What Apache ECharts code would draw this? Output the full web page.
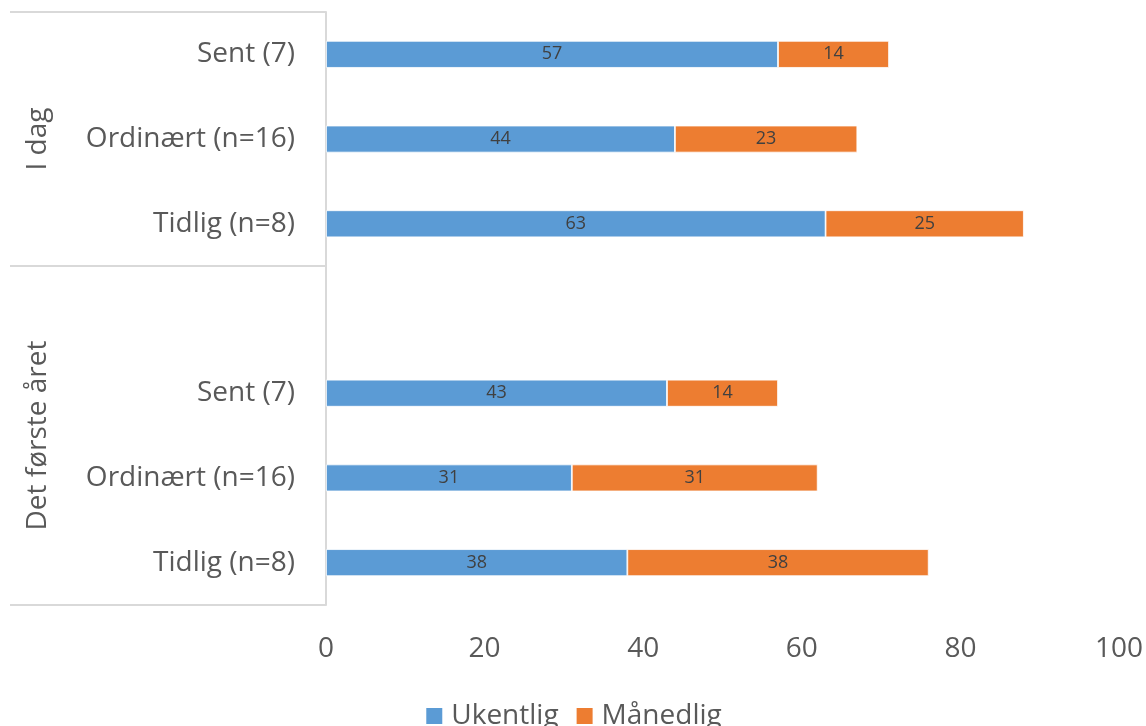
<!DOCTYPE html>
<html>
<head>
<meta charset="utf-8">
<title>Ukentlig / Månedlig</title>
<script src="https://cdn.jsdelivr.net/npm/echarts@6/dist/echarts.min.js"></script>
<style>
  html, body { margin: 0; padding: 0; background: #ffffff; }
  #chart { width: 1146px; height: 726px; }
</style>
</head>
<body>
<div id="chart"></div>
<script>
// Rows from top to bottom; the empty row separates the two periods.
const categories = ['Sent (7)', 'Ordinært (n=16)', 'Tidlig (n=8)', '', 'Sent (7)', 'Ordinært (n=16)', 'Tidlig (n=8)'];
// Period groups: name and the row indices (first, last) they span.
const groupNames = ['I dag', 'Det første året'];
const groupSpans = [[0, 2], [3, 6]];
const seriesNames = ['Ukentlig', 'Månedlig'];
const ukentlig = [57, 44, 63, null, 43, 31, 38];
const maanedlig = [14, 23, 25, null, 14, 31, 38];
const xTicks = { min: 0, max: 100, interval: 20 };

const FONT = '"Open Sans", "Noto Sans", sans-serif';
const TEXT = '#595959';
const RULE = '#d9d9d9';

const chart = echarts.init(document.getElementById('chart'), null, { renderer: 'canvas' });

function barSeries(name, values, color) {
  return {
    name: name,
    type: 'bar',
    stack: 'total',
    barWidth: 27,
    data: values,
    itemStyle: { color: color, borderColor: '#ffffff', borderWidth: 0.8 },
    label: {
      show: true,
      position: 'inside',
      color: '#404040',
      fontFamily: FONT,
      fontSize: 18
    },
    emphasis: { disabled: true }
  };
}

chart.setOption({
  animation: false,
  textStyle: { fontFamily: FONT },
  grid: { left: 326, right: 24, top: 12, bottom: 121, containLabel: false },
  legend: {
    data: seriesNames,
    left: 'center',
    top: 697,
    itemWidth: 18,
    itemHeight: 18,
    itemGap: 16,
    icon: 'rect',
    textStyle: { color: TEXT, fontFamily: FONT, fontSize: 28, padding: [0, 0, 0, 3] }
  },
  xAxis: {
    type: 'value',
    min: xTicks.min,
    max: xTicks.max,
    interval: xTicks.interval,
    axisLine: { show: false },
    axisTick: { show: false },
    splitLine: { show: false },
    axisLabel: { color: TEXT, fontFamily: FONT, fontSize: 28, margin: 30 }
  },
  yAxis: {
    type: 'category',
    inverse: true,
    data: categories,
    axisLine: { show: true, lineStyle: { color: RULE, width: 2 } },
    axisTick: { show: false },
    axisLabel: { color: TEXT, fontFamily: FONT, fontSize: 28, margin: 31, padding: [4, 0, 0, 0] }
  },
  series: [
    barSeries(seriesNames[0], ukentlig, '#5b9bd5'),
    barSeries(seriesNames[1], maanedlig, '#ed7d31')
  ]
});

// Group rules and rotated group names on the category side of the axis.
function drawGroups() {
  const at = i => chart.convertToPixel({ yAxisIndex: 0 }, i);
  const band = at(1) - at(0);
  const axisX = chart.convertToPixel({ xAxisIndex: 0 }, 0);
  const elements = [];
  const edges = new Set();
  groupSpans.forEach(([a, b], gi) => {
    const top = at(a) - band / 2;
    const bottom = at(b) + band / 2;
    edges.add(Math.round(top));
    edges.add(Math.round(bottom));
    elements.push({
      type: 'text',
      x: 38,
      y: (top + bottom) / 2,
      rotation: Math.PI / 2,
      style: {
        text: groupNames[gi],
        fill: TEXT,
        font: '28px ' + FONT,
        align: 'center',
        verticalAlign: 'middle'
      },
      silent: true
    });
  });
  edges.forEach(y => {
    elements.push({
      type: 'line',
      shape: { x1: 10, y1: y, x2: axisX, y2: y },
      style: { stroke: RULE, lineWidth: 2 },
      silent: true
    });
  });
  chart.setOption({ graphic: { elements: elements } });
}
drawGroups();
</script>
</body>
</html>
